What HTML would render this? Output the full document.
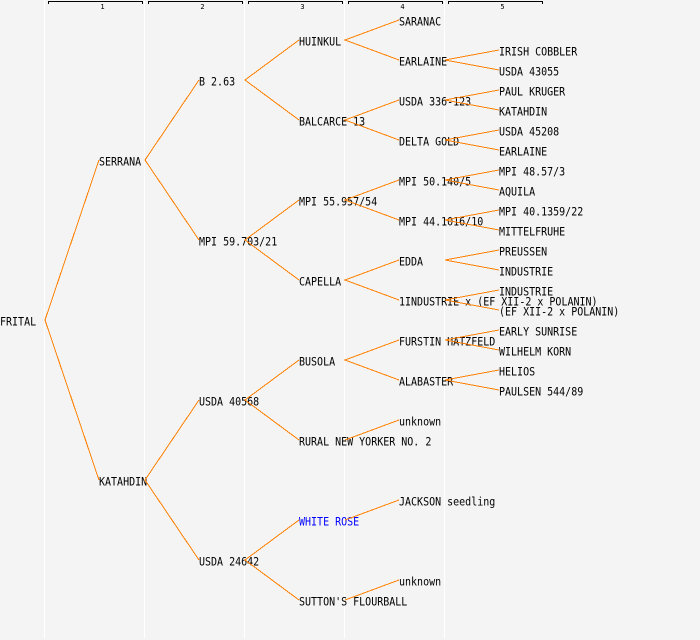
<!DOCTYPE html>
<html>
<head>
<meta charset="utf-8">
<style>
html,body{margin:0;padding:0;background:#f4f4f4;width:700px;height:640px;overflow:hidden}
svg{display:block}
text{font-family:"DejaVu Sans Mono","Liberation Mono",monospace;font-size:10px;fill:#000;white-space:pre}
.h{font-size:7px;text-anchor:middle}
</style>
</head>
<body>
<svg width="700" height="640" viewBox="0 0 700 640" xmlns="http://www.w3.org/2000/svg">
<rect width="700" height="640" fill="#f4f4f4"/>
<g fill="#fff">
<rect x="44" y="0" width="1" height="638"/>
<rect x="144" y="0" width="1" height="638"/>
<rect x="244" y="0" width="1" height="638"/>
<rect x="344" y="0" width="1" height="638"/>
<rect x="444" y="0" width="1" height="638"/>
</g>
<g fill="none" stroke="#000" stroke-width="1" shape-rendering="crispEdges">
<path d="M48.5 4V1.5H142.5V4"/>
<path d="M148.5 4V1.5H242.5V4"/>
<path d="M248.5 4V1.5H342.5V4"/>
<path d="M348.5 4V1.5H442.5V4"/>
<path d="M448.5 4V1.5H542.5V4"/>
</g>
<text class="h" x="102.5" y="9">1</text>
<text class="h" x="202.5" y="9">2</text>
<text class="h" x="302.5" y="9">3</text>
<text class="h" x="402.5" y="9">4</text>
<text class="h" x="502.5" y="9">5</text>

<text transform="translate(0,325.5) scale(1,1.12)">FRITAL</text>
<text transform="translate(99,165.5) scale(1,1.12)">SERRANA</text>
<text transform="translate(99,485.5) scale(1,1.12)">KATAHDIN</text>

<text transform="translate(199,85.5) scale(1,1.12)">B 2.63</text>
<text transform="translate(199,245.5) scale(1,1.12)">MPI 59.703/21</text>
<text transform="translate(199,405.5) scale(1,1.12)">USDA 40568</text>
<text transform="translate(199,565.5) scale(1,1.12)">USDA 24642</text>

<text transform="translate(299,45.5) scale(1,1.12)">HUINKUL</text>
<text transform="translate(299,125.5) scale(1,1.12)">BALCARCE 13</text>
<text transform="translate(299,205.5) scale(1,1.12)">MPI 55.957/54</text>
<text transform="translate(299,285.5) scale(1,1.12)">CAPELLA</text>
<text transform="translate(299,365.5) scale(1,1.12)">BUSOLA</text>
<text transform="translate(299,445.5) scale(1,1.12)">RURAL NEW YORKER NO. 2</text>
<text transform="translate(299,525.5) scale(1,1.12)" style="fill:#0000ff">WHITE ROSE</text>
<text transform="translate(299,605.5) scale(1,1.12)">SUTTON'S FLOURBALL</text>

<text transform="translate(399,25.5) scale(1,1.12)">SARANAC</text>
<text transform="translate(399,65.5) scale(1,1.12)">EARLAINE</text>
<text transform="translate(399,105.5) scale(1,1.12)">USDA 336-123</text>
<text transform="translate(399,145.5) scale(1,1.12)">DELTA GOLD</text>
<text transform="translate(399,185.5) scale(1,1.12)">MPI 50.140/5</text>
<text transform="translate(399,225.5) scale(1,1.12)">MPI 44.1016/10</text>
<text transform="translate(399,265.5) scale(1,1.12)">EDDA</text>
<text transform="translate(399,305.5) scale(1,1.12)">1INDUSTRIE x (EF XII-2 x POLANIN)</text>
<text transform="translate(399,345.5) scale(1,1.12)">FURSTIN HATZFELD</text>
<text transform="translate(399,385.5) scale(1,1.12)">ALABASTER</text>
<text transform="translate(399,425.5) scale(1,1.12)">unknown</text>
<text transform="translate(399,505.5) scale(1,1.12)">JACKSON seedling</text>
<text transform="translate(399,585.5) scale(1,1.12)">unknown</text>

<text transform="translate(499,55.5) scale(1,1.12)">IRISH COBBLER</text>
<text transform="translate(499,75.5) scale(1,1.12)">USDA 43055</text>
<text transform="translate(499,95.5) scale(1,1.12)">PAUL KRUGER</text>
<text transform="translate(499,115.5) scale(1,1.12)">KATAHDIN</text>
<text transform="translate(499,135.5) scale(1,1.12)">USDA 45208</text>
<text transform="translate(499,155.5) scale(1,1.12)">EARLAINE</text>
<text transform="translate(499,175.5) scale(1,1.12)">MPI 48.57/3</text>
<text transform="translate(499,195.5) scale(1,1.12)">AQUILA</text>
<text transform="translate(499,215.5) scale(1,1.12)">MPI 40.1359/22</text>
<text transform="translate(499,235.5) scale(1,1.12)">MITTELFRUHE</text>
<text transform="translate(499,255.5) scale(1,1.12)">PREUSSEN</text>
<text transform="translate(499,275.5) scale(1,1.12)">INDUSTRIE</text>
<text transform="translate(499,295.5) scale(1,1.12)">INDUSTRIE</text>
<text transform="translate(499,315.5) scale(1,1.12)">(EF XII-2 x POLANIN)</text>
<text transform="translate(499,335.5) scale(1,1.12)">EARLY SUNRISE</text>
<text transform="translate(499,355.5) scale(1,1.12)">WILHELM KORN</text>
<text transform="translate(499,375.5) scale(1,1.12)">HELIOS</text>
<text transform="translate(499,395.5) scale(1,1.12)">PAULSEN 544/89</text>

<g fill="none" stroke="#ff8000" stroke-width="1" shape-rendering="crispEdges">
<path d="M99 160L45 320L99 480"/>
<path d="M199 80L145 160L199 240"/>
<path d="M199 400L145 480L199 560"/>
<path d="M299 40L245 80L299 120"/>
<path d="M299 200L245 240L299 280"/>
<path d="M299 360L245 400L299 440"/>
<path d="M299 520L245 560L299 600"/>
<path d="M399 20L345 40L399 60"/>
<path d="M399 100L345 120L399 140"/>
<path d="M399 180L345 200L399 220"/>
<path d="M399 260L345 280L399 300"/>
<path d="M399 340L345 360L399 380"/>
<path d="M345 440L399 420"/>
<path d="M345 520L399 500"/>
<path d="M345 600L399 580"/>
<path d="M499 50L445 60L499 70"/>
<path d="M499 90L445 100L499 110"/>
<path d="M499 130L445 140L499 150"/>
<path d="M499 170L445 180L499 190"/>
<path d="M499 210L445 220L499 230"/>
<path d="M499 250L445 260L499 270"/>
<path d="M499 290L445 300L499 310"/>
<path d="M499 330L445 340L499 350"/>
<path d="M499 370L445 380L499 390"/>
</g>
</svg>
</body>
</html>
